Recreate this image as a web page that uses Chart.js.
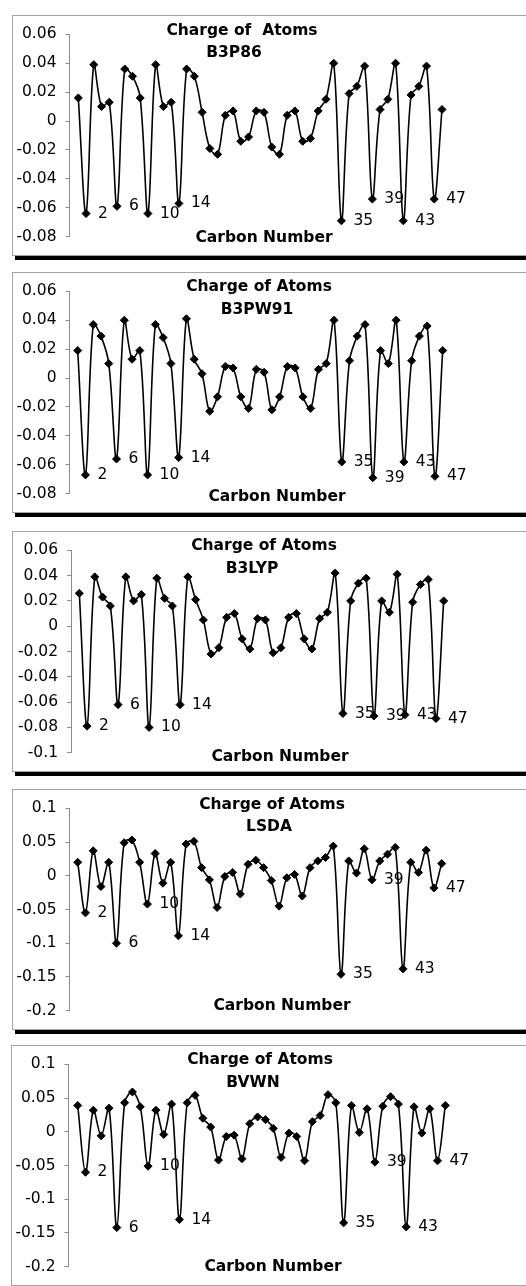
<!DOCTYPE html>
<html><head><meta charset="utf-8">
<script src="https://cdn.jsdelivr.net/npm/chart.js@4.4.1/dist/chart.umd.min.js"></script>
<style>
html,body{margin:0;padding:0;background:#fff;overflow:hidden;width:526px;height:1286px;position:relative;}
.box{position:absolute;width:560px;height:239px;border:1px solid #a6a6a6;box-shadow:3px 4px 0 #000;background:#fff;}
.box canvas{position:absolute;left:0;top:0;}
</style></head><body>
<script>
// ---------- data ----------
const carbons = [1,2,3,4,5,6,7,8,9,10,11,12,13,14,15,16,17,18,19,20,21,22,23,24,25,26,27,28,29,30,31,32,33,34,35,36,37,38,39,40,41,42,43,44,45,46,47,48];
const labeledCarbons = [2,6,10,14,35,39,43,47];
const methods = ["B3P86","B3PW91","B3LYP","LSDA","BVWN"];
const chartTitles = ["Charge of  Atoms","Charge of Atoms","Charge of Atoms","Charge of Atoms","Charge of Atoms"];
const xAxisTitle = "Carbon Number";

const chargeB3P86 = [0.016,-0.064,0.039,0.010,0.013,-0.059,0.036,0.031,0.016,-0.064,0.039,0.010,0.013,-0.057,0.036,0.031,0.006,-0.019,-0.023,0.004,0.007,-0.014,-0.011,0.007,0.006,-0.018,-0.023,0.004,0.007,-0.014,-0.012,0.007,0.015,0.040,-0.069,0.019,0.024,0.038,-0.054,0.008,0.015,0.040,-0.069,0.018,0.024,0.038,-0.054,0.008];
const chargeB3PW91 = [0.019,-0.067,0.037,0.029,0.010,-0.056,0.040,0.013,0.019,-0.067,0.037,0.028,0.010,-0.055,0.041,0.013,0.003,-0.023,-0.013,0.008,0.007,-0.013,-0.021,0.006,0.004,-0.022,-0.013,0.008,0.007,-0.013,-0.021,0.006,0.010,0.040,-0.058,0.012,0.029,0.037,-0.069,0.019,0.010,0.040,-0.058,0.012,0.029,0.036,-0.068,0.019];
const chargeB3LYP = [0.026,-0.079,0.039,0.023,0.016,-0.062,0.039,0.020,0.025,-0.080,0.038,0.022,0.016,-0.062,0.039,0.021,0.005,-0.022,-0.017,0.007,0.010,-0.010,-0.018,0.006,0.005,-0.021,-0.017,0.007,0.010,-0.010,-0.018,0.006,0.011,0.042,-0.069,0.020,0.034,0.038,-0.071,0.020,0.011,0.041,-0.070,0.019,0.033,0.037,-0.073,0.020];
const chargeLSDA = [0.020,-0.055,0.037,-0.016,0.020,-0.100,0.049,0.053,0.020,-0.042,0.033,-0.011,0.020,-0.089,0.047,0.051,0.012,-0.006,-0.047,-0.001,0.005,-0.027,0.017,0.023,0.012,-0.007,-0.045,-0.003,0.002,-0.030,0.012,0.022,0.027,0.044,-0.146,0.022,0.004,0.040,-0.006,0.022,0.032,0.042,-0.138,0.020,0.005,0.038,-0.018,0.018];
const chargeBVWN = [0.039,-0.060,0.032,-0.006,0.035,-0.142,0.043,0.059,0.037,-0.051,0.032,-0.004,0.041,-0.130,0.043,0.054,0.020,0.007,-0.042,-0.007,-0.005,-0.040,0.012,0.022,0.018,0.005,-0.038,-0.002,-0.007,-0.043,0.015,0.024,0.055,0.043,-0.135,0.039,-0.001,0.034,-0.045,0.038,0.052,0.041,-0.141,0.037,-0.002,0.034,-0.043,0.039];

const yTicksSmall = [0.06,0.04,0.02,0,-0.02,-0.04,-0.06,-0.08];
const yTickLabelsSmall = ["0.06","0.04","0.02","0","-0.02","-0.04","-0.06","-0.08"];
const yTicksB3LYP = [0.06,0.04,0.02,0,-0.02,-0.04,-0.06,-0.08,-0.1];
const yTickLabelsB3LYP = ["0.06","0.04","0.02","0","-0.02","-0.04","-0.06","-0.08","-0.1"];
const yTicksLarge = [0.1,0.05,0,-0.05,-0.1,-0.15,-0.2];
const yTickLabelsLarge = ["0.1","0.05","0","-0.05","-0.1","-0.15","-0.2"];

const seriesList = [chargeB3P86, chargeB3PW91, chargeB3LYP, chargeLSDA, chargeBVWN];
const tickValueList = [yTicksSmall, yTicksSmall, yTicksB3LYP, yTicksLarge, yTicksLarge];
const tickLabelList = [yTickLabelsSmall, yTickLabelsSmall, yTickLabelsB3LYP, yTickLabelsLarge, yTickLabelsLarge];

// ---------- layout (page pixels) ----------
const layoutList = [
  {left:12, top:15,   axisX:69.5, yTop:31,     yBot:240,    p1:78.3, p48:442,   tx:[242,234], ty:[30.5,53],   cx:264, cy:238},
  {left:12, top:272,  axisX:69.5, yTop:287.3,  yBot:495.7,  p1:77.7, p48:442.7, tx:[259,257], ty:[287,310],   cx:277, cy:497},
  {left:12, top:531,  axisX:71,   yTop:546.7,  yBot:758.7,  p1:79.3, p48:443.7, tx:[264,252], ty:[546,568.7], cx:280, cy:756.5},
  {left:12, top:789,  axisX:69.5, yTop:804.3,  yBot:1014,   p1:77.7, p48:441.7, tx:[272,269], ty:[804.5,827], cx:282, cy:1006},
  {left:11, top:1045, axisX:68.5, yTop:1061,   yBot:1273.7, p1:77.7, p48:445.3, tx:[260,253], ty:[1060,1083], cx:273, cy:1267}
];
const CANVAS_W = 515, CANVAS_H = 239, PLOT_RIGHT = 465;
const FONT = '"DejaVu Sans", "Liberation Sans", Arial, sans-serif';

const panelText = {
  id: 'panelText',
  afterDraw(chart, args, o) {
    const ctx = chart.ctx;
    ctx.save();
    ctx.fillStyle = '#000';
    ctx.textAlign = 'center';
    ctx.textBaseline = 'middle';
    ctx.font = 'bold 15.5px ' + FONT;
    ctx.fillText(o.title, o.tx[0] - o.ox, o.ty[0] - o.oy);
    ctx.fillText(o.method, o.tx[1] - o.ox, o.ty[1] - o.oy);
    ctx.fillText(o.xTitle, o.cx - o.ox, o.cy - o.oy);
    ctx.font = '15.5px ' + FONT;
    ctx.textAlign = 'left';
    const meta = chart.getDatasetMeta(0);
    labeledCarbons.forEach(c => {
      const pt = meta.data[carbons.indexOf(c)];
      if (pt) ctx.fillText(String(c), pt.x + 12, pt.y);
    });
    ctx.restore();
  }
};

methods.forEach((method, k) => {
  const L = layoutList[k];
  const box = document.createElement('div');
  box.className = 'box';
  box.style.left = L.left + 'px';
  box.style.top = L.top + 'px';
  const cv = document.createElement('canvas');
  cv.width = CANVAS_W; cv.height = CANVAS_H;
  cv.style.width = CANVAS_W + 'px'; cv.style.height = CANVAS_H + 'px';
  box.appendChild(cv);
  document.body.appendChild(box);

  const ox = L.left + 1, oy = L.top + 1;
  const s = (L.p48 - L.p1) / 47;
  const xMin = 1 - (L.p1 - L.axisX) / s;
  const xMax = 48 + (PLOT_RIGHT - L.p48) / s;
  const tv = tickValueList[k], tl = tickLabelList[k];

  new Chart(cv, {
    type: 'line',
    data: {
      labels: carbons,
      datasets: [{
        label: method,
        data: seriesList[k],
        borderColor: '#000',
        borderWidth: 1.6,
        backgroundColor: '#000',
        pointStyle: 'rectRot',
        pointRadius: 4,
        pointBorderWidth: 1,
        pointBackgroundColor: '#000',
        pointBorderColor: '#000',
        tension: 0.35,
        fill: false,
        clip: 8
      }]
    },
    options: {
      responsive: false,
      animation: false,
      devicePixelRatio: 1,
      events: [],
      layout: {
        padding: {
          left: 0,
          right: CANVAS_W - (PLOT_RIGHT - ox),
          top: L.yTop - oy,
          bottom: CANVAS_H - (L.yBot - oy)
        }
      },
      plugins: {
        legend: {display: false},
        title: {display: false},
        tooltip: {enabled: false},
        panelText: {title: chartTitles[k], method: method, xTitle: xAxisTitle,
          tx: L.tx, ty: L.ty, cx: L.cx, cy: L.cy, ox: ox, oy: oy}
      },
      scales: {
        x: {type: 'linear', display: false, min: xMin, max: xMax},
        y: {
          type: 'linear',
          min: tv[tv.length - 1],
          max: tv[0],
          afterFit(scale) { scale.width = L.axisX - ox; },
          afterBuildTicks(scale) { scale.ticks = tv.slice().reverse().map(v => ({value: v})); },
          border: {display: true, color: '#8c8c8c', width: 1},
          grid: {display: true, drawOnChartArea: false, drawTicks: true, tickLength: 4, color: '#8c8c8c', lineWidth: 1},
          ticks: {
            autoSkip: false,
            color: '#000',
            padding: 9,
            font: {family: FONT, size: 15.5},
            callback(value) {
              const i = tv.findIndex(v => Math.abs(v - value) < 1e-9);
              return i >= 0 ? tl[i] : '';
            }
          }
        }
      }
    },
    plugins: [panelText]
  });
});
</script>
</body></html>
